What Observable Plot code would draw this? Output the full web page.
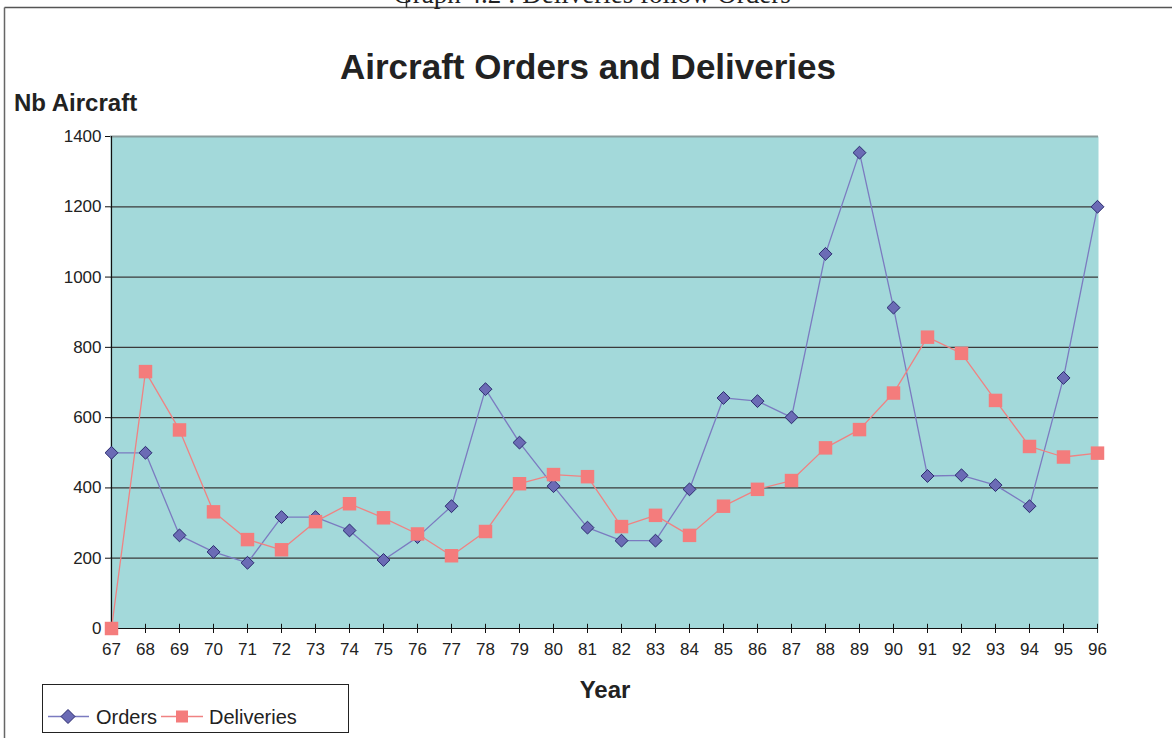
<!DOCTYPE html>
<html>
<head>
<meta charset="utf-8">
<script src="https://cdn.jsdelivr.net/npm/d3@7"></script>
<script src="https://cdn.jsdelivr.net/npm/@observablehq/plot@0.6"></script>
<style>
  html, body { margin: 0; padding: 0; background: #fff; }
  #wrap { position: relative; width: 1172px; height: 738px; overflow: hidden; font-family: Arial, "Liberation Sans", sans-serif; }
  #chart { position: absolute; left: 0; top: 126px; }
  #overlay { position: absolute; left: 0; top: 0; }
  #chart svg g[aria-label$="tick label"] { font-size: 17px; font-family: Arial, "Liberation Sans", sans-serif; fill: #222; }
</style>
</head>
<body>
<div id="wrap">
  <svg id="overlay" width="1172" height="738" xmlns="http://www.w3.org/2000/svg"></svg>
  <div id="chart"></div>
</div>
<script>
// ---- data ----
const years = ["67","68","69","70","71","72","73","74","75","76","77","78","79","80","81",
               "82","83","84","85","86","87","88","89","90","91","92","93","94","95","96"];
const orders = [500, 500, 265, 218, 187, 317, 317, 279, 195, 260, 348, 681, 529, 405, 287,
                250, 250, 396, 656, 647, 601, 1066, 1354, 913, 434, 436, 408, 348, 713, 1200];
const deliveries = [0, 731, 565, 332, 253, 224, 304, 355, 315, 269, 207, 276, 412, 438, 432,
                    290, 322, 265, 348, 396, 421, 514, 566, 670, 829, 783, 649, 518, 488, 499];
const yTicks = [0, 200, 400, 600, 800, 1000, 1200, 1400];
const gridLines = [200, 400, 600, 800, 1000, 1200];

const titleText = "Aircraft Orders and Deliveries";
const topText = "Graph 4.2 : Deliveries follow Orders";
const yLabel = "Nb Aircraft";
const xLabel = "Year";
const seriesNames = ["Orders", "Deliveries"];

const ordersData = years.map((y, i) => ({year: y, value: orders[i]}));
const deliveriesData = years.map((y, i) => ({year: y, value: deliveries[i]}));

const ink = "#222";
const ordersLine = "#7b7bc0", ordersFill = "#6b6bb5", ordersStroke = "#2a2a6e";
const delivLine = "#f08282", delivFill = "#f47c7c";

const chart = Plot.plot({
  width: 1172,
  height: 546,
  marginTop: 10,
  marginBottom: 44,
  marginLeft: 110,
  marginRight: 74,
  style: {fontFamily: 'Arial, "Liberation Sans", sans-serif', fontSize: "17px", color: ink, background: "transparent"},
  x: {type: "point", domain: years, padding: 0},
  y: {domain: [0, 1400]},
  marks: [
    Plot.frame({fill: "#a3d9da", stroke: null}),
    Plot.ruleY(gridLines, {stroke: "#3a3a3a", strokeWidth: 1.3}),
    Plot.ruleY([1400], {stroke: "#8a9c9c", strokeWidth: 2}),
    Plot.ruleY([0], {stroke: "#111", strokeWidth: 1.2}),
    Plot.ruleX([years[0]], {stroke: "#111", strokeWidth: 1.2}),
    Plot.ruleX(years, {x: d => d, y1: 0, y2: 12, stroke: "#111", strokeWidth: 1}),
    Plot.axisY({ticks: yTicks, tickFormat: d => String(d), tickSize: 5, tickPadding: 4, label: null, fontSize: 17, stroke: "#111"}),
    Plot.axisX({tickSize: 5, tickPadding: 9, label: null, fontSize: 17, stroke: "#111"}),
    Plot.line(ordersData, {x: "year", y: "value", stroke: ordersLine, strokeWidth: 1.3}),
    Plot.dot(ordersData, {x: "year", y: "value", symbol: "diamond2", r: 5.8, fill: ordersFill, stroke: ordersStroke, strokeWidth: 1}),
    Plot.line(deliveriesData, {x: "year", y: "value", stroke: delivLine, strokeWidth: 1.3}),
    Plot.dot(deliveriesData, {x: "year", y: "value", symbol: "square", r: 7.6, fill: delivFill, stroke: null})
  ]
});
document.getElementById("chart").appendChild(chart);

// ---- overlay: frame, titles, legend ----
const ov = d3.select("#overlay");
ov.append("line").attr("x1", 4.5).attr("y1", 7.5).attr("x2", 1172).attr("y2", 7.5).attr("stroke", "#555").attr("stroke-width", 1.5);
ov.append("line").attr("x1", 4.5).attr("y1", 7.5).attr("x2", 4.5).attr("y2", 738).attr("stroke", "#666").attr("stroke-width", 1.5);
ov.append("line").attr("x1", 406.5).attr("y1", 0).attr("x2", 406.5).attr("y2", 8).attr("stroke", "#333").attr("stroke-width", 1.5);
ov.append("text").text(topText).attr("x", 592).attr("y", 3).attr("text-anchor", "middle")
  .attr("font-family", '"Liberation Serif", "Times New Roman", serif').attr("font-size", 27).attr("fill", ink);
ov.append("text").text(titleText).attr("x", 588).attr("y", 79).attr("text-anchor", "middle")
  .attr("font-size", 35).attr("font-weight", "bold").attr("fill", ink);
ov.append("text").text(yLabel).attr("x", 14).attr("y", 111)
  .attr("font-size", 24).attr("font-weight", "bold").attr("fill", ink);
ov.append("text").text(xLabel).attr("x", 605).attr("y", 698).attr("text-anchor", "middle")
  .attr("font-size", 24).attr("font-weight", "bold").attr("fill", ink);

// legend
const lg = ov.append("g");
lg.append("rect").attr("x", 42.5).attr("y", 684.5).attr("width", 306).attr("height", 48)
  .attr("fill", "#fff").attr("stroke", "#222").attr("stroke-width", 1);
const ly = 716.5;
lg.append("line").attr("x1", 48).attr("x2", 89).attr("y1", ly).attr("y2", ly).attr("stroke", ordersLine).attr("stroke-width", 1.3);
lg.append("path").attr("d", `M68,${ly-7}L75,${ly}L68,${ly+7}L61,${ly}Z`).attr("fill", ordersFill).attr("stroke", ordersStroke);
lg.append("text").text(seriesNames[0]).attr("x", 96).attr("y", ly + 7).attr("font-size", 20).attr("fill", ink);
lg.append("line").attr("x1", 161).attr("x2", 203).attr("y1", ly).attr("y2", ly).attr("stroke", delivLine).attr("stroke-width", 1.3);
lg.append("rect").attr("x", 176).attr("y", ly - 6).attr("width", 12).attr("height", 12).attr("fill", delivFill);
lg.append("text").text(seriesNames[1]).attr("x", 209).attr("y", ly + 7).attr("font-size", 20).attr("fill", ink);
</script>
</body>
</html>
